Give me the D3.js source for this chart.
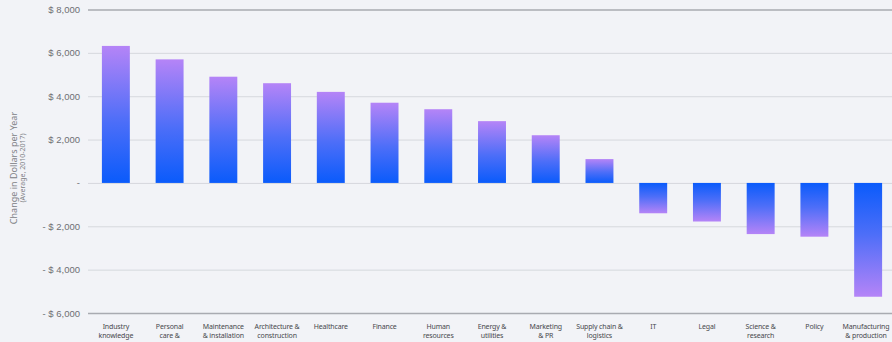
<!DOCTYPE html>
<html>
<head>
<meta charset="utf-8">
<script src="https://cdn.jsdelivr.net/npm/d3@7"></script>
<style>
  body { margin: 0; background: #f2f3f7; }
  svg { display: block; font-family: "Noto Sans", Roboto, sans-serif; }
</style>
</head>
<body>
<div id="chart"></div>
<script>
(function(){
  'use strict';

  var categories = [
    ['Industry', 'knowledge'], ['Personal', 'care &'], ['Maintenance', '& installation'],
    ['Architecture &', 'construction'], ['Healthcare'], ['Finance'], ['Human', 'resources'],
    ['Energy &', 'utilities'], ['Marketing', '& PR'], ['Supply chain &', 'logistics'],
    ['IT'], ['Legal'], ['Science &', 'research'], ['Policy'], ['Manufacturing', '& production']
  ];
  var values = [6320, 5700, 4900, 4600, 4200, 3700, 3400, 2850, 2200, 1100,
                -1400, -1780, -2360, -2480, -5250];
  var yTicks = [-6000, -4000, -2000, 0, 2000, 4000, 6000, 8000];

  var w = 892,
      h = 342;

  var svg = d3.select('#chart').append('svg')
    .attr('width', w)
    .attr('height', h);

  svg.append('rect')
    .attr('width', w)
    .attr('height', h)
    .attr('fill', '#f2f3f7');

  var x = d3.scaleBand()
    .domain(d3.range(categories.length))
    .range([89, 895])
    .paddingInner(0.48)
    .paddingOuter(0.24);

  var y = d3.scaleLinear()
    .domain([-6000, 8000])
    .range([313, 9.5]);

  var fmt = function(d) {
    if (d === 0) return '-';
    var s = '$ ' + d3.format(',')(Math.abs(d));
    return d < 0 ? '- ' + s : s;
  };

  // grid + tick labels
  var yAxis = d3.axisLeft(y)
    .tickValues(yTicks)
    .tickSize(-(w - 88))
    .tickPadding(8)
    .tickFormat(fmt);

  var gy = svg.append('g')
    .attr('transform', 'translate(88,0)')
    .call(yAxis);
  gy.select('.domain').remove();
  gy.selectAll('.tick line')
    .attr('stroke', function(d) { return (d === 8000 || d === -6000) ? '#a9abb1' : '#d6d8dd'; })
    .attr('stroke-width', function(d) { return (d === 8000 || d === -6000) ? 1.3 : 1; });
  gy.selectAll('.tick text')
    .attr('fill', '#6e6f73')
    .style('font-size', '9.5px');

  // gradients
  var defs = svg.append('defs');
  var pos = defs.append('linearGradient')
    .attr('id', 'gPos').attr('x1', 0).attr('y1', 0).attr('x2', 0).attr('y2', 1);
  pos.append('stop').attr('offset', '0%').attr('stop-color', '#b584f7');
  pos.append('stop').attr('offset', '55%').attr('stop-color', '#4d6ef8');
  pos.append('stop').attr('offset', '100%').attr('stop-color', '#0a5bfb');
  var neg = defs.append('linearGradient')
    .attr('id', 'gNeg').attr('x1', 0).attr('y1', 0).attr('x2', 0).attr('y2', 1);
  neg.append('stop').attr('offset', '0%').attr('stop-color', '#0a5bfb');
  neg.append('stop').attr('offset', '45%').attr('stop-color', '#4d6ef8');
  neg.append('stop').attr('offset', '100%').attr('stop-color', '#b584f7');

  svg.selectAll('.bar')
    .data(values)
    .enter()
    .append('rect')
    .attr('class', 'bar')
    .attr('x', function(d, i) { return x(i); })
    .attr('width', x.bandwidth())
    .attr('y', function(d) { return y(Math.max(0, d)); })
    .attr('height', function(d) { return Math.abs(y(d) - y(0)); })
    .attr('fill', function(d) { return d >= 0 ? 'url(#gPos)' : 'url(#gNeg)'; });

  // category labels
  var lab = svg.selectAll('.lab')
    .data(categories)
    .enter()
    .append('text')
    .attr('class', 'lab')
    .attr('text-anchor', 'middle')
    .attr('fill', '#47484c')
    .style('font-size', '7px')
    .style('letter-spacing', '-0.15px')
    .attr('transform', function(d, i) {
      var cx = x(i) + x.bandwidth() / 2;
      return 'translate(' + Math.min(cx, 866) + ',329)';
    });
  lab.selectAll('tspan')
    .data(function(d) { return d; })
    .enter()
    .append('tspan')
    .attr('x', 0)
    .attr('dy', function(d, i) { return i === 0 ? 0 : 8.5; })
    .text(function(d) { return d; });

  // axis title
  var t = svg.append('text')
    .attr('transform', 'translate(17,168) rotate(-90)')
    .attr('text-anchor', 'middle')
    .attr('fill', '#808186');
  t.append('tspan')
    .attr('x', 0)
    .style('font-size', '9px')
    .text('Change in Dollars per Year');
  t.append('tspan')
    .attr('x', 0)
    .attr('dy', 8)
    .style('font-size', '7px')
    .text('(Average, 2010-2017)');
}());
</script>
</body>
</html>
